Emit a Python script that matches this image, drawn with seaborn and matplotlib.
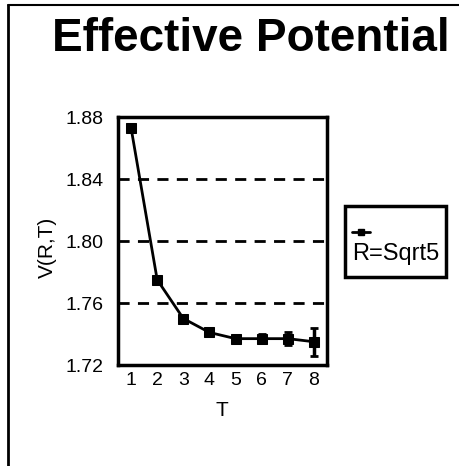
import matplotlib
matplotlib.use("Agg")
import matplotlib.pyplot as plt
import seaborn as sns
import numpy as np
import pandas as pd
from matplotlib.lines import Line2D
from matplotlib.patches import Rectangle

T = [1, 2, 3, 4, 5, 6, 7, 8]
V = [1.873, 1.775, 1.750, 1.741, 1.737, 1.737, 1.737, 1.735]
err = [0.001, 0.001, 0.001, 0.001, 0.002, 0.003, 0.004, 0.009]
series = "R=Sqrt5"
yticks = [1.72, 1.76, 1.80, 1.84, 1.88]
ylabels = ["1.72", "1.76", "1.80", "1.84", "1.88"]

sns.set_style("white")
plt.rcParams['font.family'] = ['Liberation Sans', 'DejaVu Sans']
plt.rcParams.update({"text.color": "black", "axes.labelcolor": "black",
                     "xtick.color": "black", "ytick.color": "black"})

W, H = 460, 466
fig = plt.figure(figsize=(4.6, 4.66), dpi=100)
ax = fig.add_axes([118/W, 1-365/H, (327-118)/W, (365-117)/H])

df = pd.DataFrame({"T": T, "V": V, "series": series})
sns.lineplot(data=df, x="T", y="V", color="black", lw=2, marker="s",
             markersize=7, markeredgecolor="black", ax=ax, legend=False)
ax.errorbar(T, V, yerr=err, fmt="none", ecolor="black", elinewidth=2.5,
            capsize=3, capthick=2)

ax.set_xlim(0.5, 8.5)
ax.set_ylim(1.72, 1.88)
ax.set_xticks(T)
ax.set_xticklabels([str(t) for t in T], fontsize=14)
ax.set_xticks(np.arange(0.5, 9, 1), minor=True)
ax.set_yticks(yticks)
ax.set_yticklabels(ylabels, fontsize=14)
ax.set_yticks(np.arange(1.72, 1.881, 0.02), minor=True)
ax.tick_params(axis="x", which="major", length=0, pad=5)
ax.tick_params(axis="x", which="minor", length=5, width=2, direction="inout")
ax.tick_params(axis="y", which="major", length=5, width=2, direction="inout", pad=8)
ax.tick_params(axis="y", which="minor", length=5, width=2, direction="inout")
for sp in ax.spines.values():
    sp.set_linewidth(2.5)
    sp.set_color("black")
for yv in [1.76, 1.80, 1.84]:
    ax.axhline(yv, color="black", lw=2, ls=(0, (4, 3)), zorder=0)
ax.set_xlabel("T", fontsize=15)
ax.set_ylabel("V(R,T)", fontsize=15)
ax.xaxis.set_label_coords((222-118)/209, (365-401)/248)
ax.yaxis.set_label_coords((57-118)/209, (365-247)/248)

# legend box (handle above label)
fig.add_artist(Rectangle((345/W, 1-277/H), (446-345)/W, (277-206)/H,
                         transform=fig.transFigure, fill=False,
                         edgecolor="black", lw=2.5))
fig.add_artist(Line2D([352/W, 370/W], [1-232/H, 1-232/H], color="black",
                      lw=2, transform=fig.transFigure))
fig.add_artist(Line2D([361/W], [1-232/H], color="black", lw=0,
                      marker="s", markersize=5, transform=fig.transFigure))
fig.text(352/W, 1-260/H, series, ha="left", va="baseline", fontsize=17)

fig.text(251/W, 1-51/H, "Effective Potential", ha="center", va="baseline",
         fontsize=33, fontweight="bold")

# page frame lines (left and top)
fig.add_artist(Line2D([8/W, 8/W], [0, 1-5/H], color="black", lw=2))
fig.add_artist(Line2D([8/W, 1], [1-5/H, 1-5/H], color="black", lw=1.5))

fig.savefig("out.png", dpi=100)
